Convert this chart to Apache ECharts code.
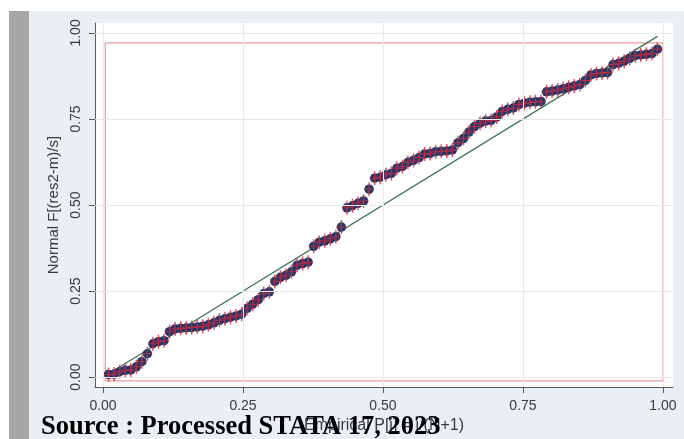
<!DOCTYPE html>
<html><head><meta charset="utf-8">
<script src="https://cdn.jsdelivr.net/npm/echarts@6/dist/echarts.min.js"></script>
<style>html,body{margin:0;padding:0;background:#fff;} #c{width:684px;height:439px;}</style>
</head><body><div id="c"></div>
<script>
// Empirical P[i] = i/(N+1), N = 100
const empiricalP = [
 0.0099,0.0198,0.0297,0.0396,0.0495,0.0594,0.0693,0.0792,0.0891,0.0990,
 0.1089,0.1188,0.1287,0.1386,0.1485,0.1584,0.1683,0.1782,0.1881,0.1980,
 0.2079,0.2178,0.2277,0.2376,0.2475,0.2574,0.2673,0.2772,0.2871,0.2970,
 0.3069,0.3168,0.3267,0.3366,0.3465,0.3564,0.3663,0.3762,0.3861,0.3960,
 0.4059,0.4158,0.4257,0.4356,0.4455,0.4554,0.4653,0.4752,0.4851,0.4950,
 0.5050,0.5149,0.5248,0.5347,0.5446,0.5545,0.5644,0.5743,0.5842,0.5941,
 0.6040,0.6139,0.6238,0.6337,0.6436,0.6535,0.6634,0.6733,0.6832,0.6931,
 0.7030,0.7129,0.7228,0.7327,0.7426,0.7525,0.7624,0.7723,0.7822,0.7921,
 0.8020,0.8119,0.8218,0.8317,0.8416,0.8515,0.8614,0.8713,0.8812,0.8911,
 0.9010,0.9109,0.9208,0.9307,0.9406,0.9505,0.9604,0.9703,0.9802,0.9901
];
// Normal F[(res2-m)/s]
const normalF = [
 0.008,0.009,0.016,0.020,0.021,0.030,0.045,0.068,0.097,0.103,
 0.106,0.132,0.140,0.142,0.143,0.144,0.146,0.148,0.152,0.158,
 0.165,0.170,0.174,0.178,0.183,0.200,0.212,0.225,0.243,0.248,
 0.278,0.290,0.296,0.306,0.325,0.330,0.334,0.380,0.392,0.396,
 0.402,0.408,0.436,0.492,0.498,0.505,0.512,0.546,0.578,0.581,
 0.588,0.592,0.607,0.612,0.624,0.630,0.638,0.648,0.650,0.655,
 0.656,0.657,0.660,0.681,0.693,0.712,0.728,0.738,0.744,0.746,
 0.756,0.772,0.778,0.782,0.792,0.796,0.799,0.800,0.801,0.829,
 0.831,0.834,0.838,0.842,0.846,0.850,0.862,0.878,0.882,0.884,
 0.885,0.908,0.912,0.918,0.926,0.934,0.936,0.938,0.940,0.953
];
const tickValues = [0, 0.25, 0.5, 0.75, 1];
const tickLabels = ['0.00', '0.25', '0.50', '0.75', '1.00'];
const refLine = [[0.0099, 0.0099], [0.9901, 0.9901]];
const frameBox = [[0.004, -0.011], [1.0, 0.971]];
const xTitle = 'Empirical P[i] = i/(N+1)';
const yTitle = 'Normal F[(res2-m)/s]';
const sourceNote = 'Source : Processed STATA 17, 2023';

const chart = echarts.init(document.getElementById('c'), null, {renderer: 'canvas'});
const points = empiricalP.map((x, i) => [x, normalF[i]]);
const labelFmt = v => {
  const k = tickValues.findIndex(t => Math.abs(t - v) < 1e-9);
  return k >= 0 ? tickLabels[k] : '';
};
const txt = '#3a3a3a';
const axisCol = '#5a5a5a';
const font = 'Liberation Sans';

chart.setOption({
  animation: false,
  backgroundColor: 'transparent',
  graphic: [
    {type: 'rect', silent: true, z: -10, shape: {x: 29, y: 11, width: 655, height: 428}, style: {fill: '#e9eff2'}},
    {type: 'rect', silent: true, z: -10, shape: {x: 9, y: 11, width: 20, height: 428}, style: {fill: '#a7a7a7'}},
    {type: 'text', silent: true, z: 100, x: 41, y: 427,
     style: {text: sourceNote, font: 'bold 26.5px "Liberation Serif"', fill: '#000', verticalAlign: 'middle', align: 'left'}}
  ],
  grid: {left: 95, top: 23, width: 578, height: 366, show: true, backgroundColor: '#ffffff', borderWidth: 0},
  xAxis: {
    type: 'value', min: -0.0143, max: 1.0179,
    axisLine: {show: true, onZero: false, lineStyle: {color: axisCol, width: 1}},
    axisTick: {show: true, length: 6, customValues: tickValues, lineStyle: {color: axisCol}},
    axisLabel: {customValues: tickValues, formatter: labelFmt, margin: 12, fontSize: 14, color: txt, fontFamily: font},
    splitLine: {show: false},
    name: xTitle, nameLocation: 'middle', nameGap: 25,
    nameTextStyle: {fontSize: 16, color: txt, fontFamily: font}
  },
  yAxis: {
    type: 'value', min: -0.0289, max: 1.0289,
    axisLine: {show: true, onZero: false, lineStyle: {color: axisCol, width: 1}},
    axisTick: {show: true, length: 6, customValues: tickValues, lineStyle: {color: axisCol}},
    axisLabel: {customValues: tickValues, formatter: labelFmt, margin: 12, fontSize: 14, color: txt, fontFamily: font, rotate: 90},
    splitLine: {show: false},
    name: yTitle, nameLocation: 'middle', nameGap: 29,
    nameTextStyle: {fontSize: 15, color: txt, fontFamily: font}
  },
  series: [
    {
      name: 'gridlines', type: 'line', data: [], z: 1, silent: true,
      markLine: {
        silent: true, symbol: 'none', label: {show: false},
        lineStyle: {color: '#e6eaec', width: 1, type: 'solid'},
        data: tickValues.map(v => ({xAxis: v})).concat(tickValues.map(v => ({yAxis: v})))
      }
    },
    {
      name: 'reference', type: 'line', data: refLine, z: 2, silent: true,
      symbol: 'none', lineStyle: {color: '#3f7458', width: 1.3},
      markArea: {
        silent: true,
        itemStyle: {color: 'rgba(0,0,0,0)', borderColor: '#ef8084', borderWidth: 1},
        data: [[{coord: frameBox[0]}, {coord: frameBox[1]}]]
      }
    },
    {
      name: 'obs', type: 'scatter', data: points, z: 3, silent: true,
      symbol: 'circle', symbolSize: 9.5,
      itemStyle: {color: '#233a66', opacity: 1}
    },
    {
      name: 'obs-cross', type: 'scatter', data: points, z: 4, silent: true,
      symbol: 'path://M4.5,0h1v14h-1z M1.5,6.5h7v1h-7z', symbolSize: [10, 14],
      itemStyle: {color: '#d8263e', opacity: 0.8}
    }
  ]
});
</script>
</body></html>
